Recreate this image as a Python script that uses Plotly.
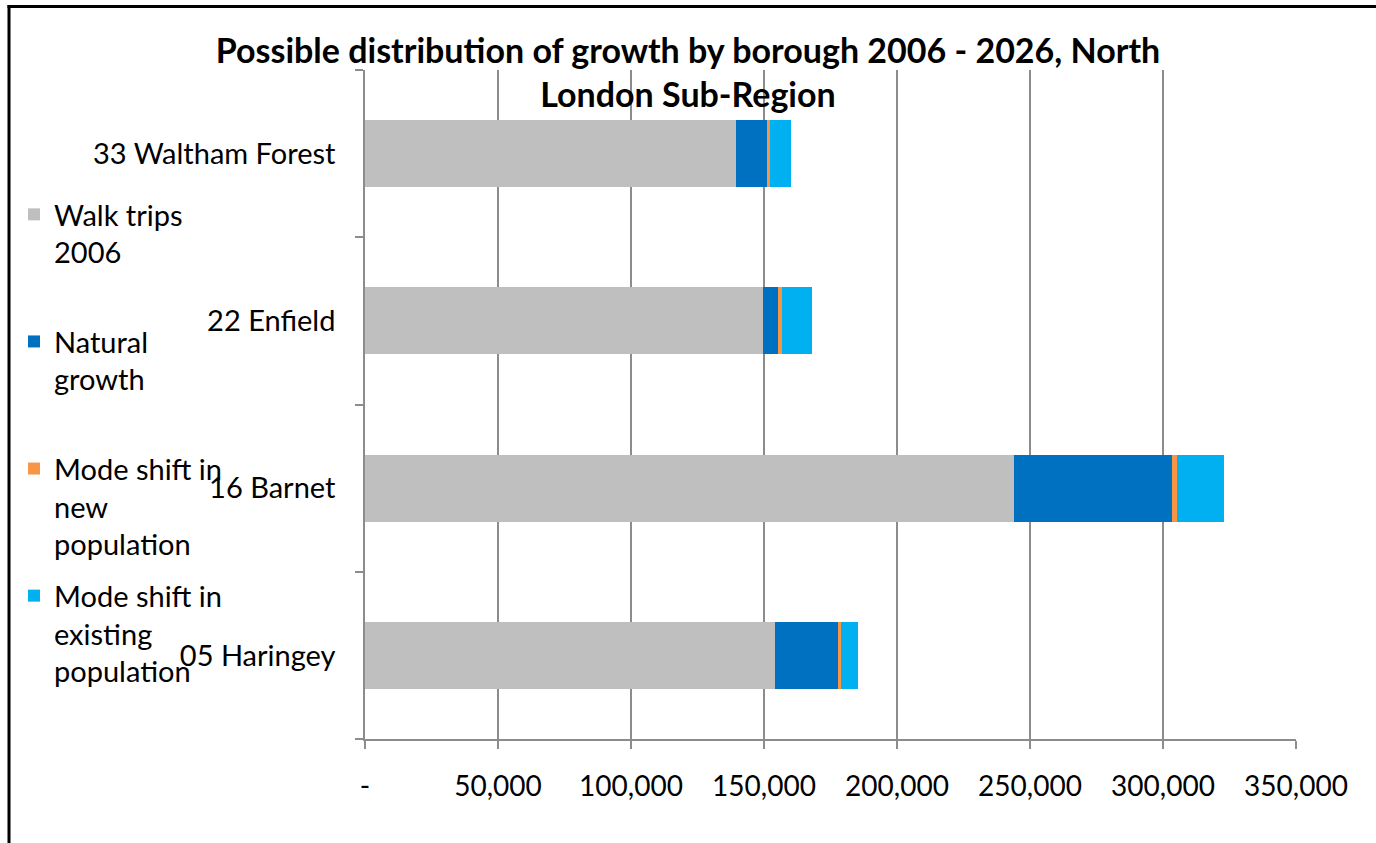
import plotly.graph_objects as go

boroughs = ["05 Haringey", "16 Barnet", "22 Enfield", "33 Waltham Forest"]
walk_2006 = [154100, 244000, 149500, 139400]
natural_growth = [23900, 59400, 5900, 11800]
mode_shift_new = [900, 1900, 1300, 900]
mode_shift_existing = [6300, 17700, 11500, 8200]

series_names = ["Walk trips<br>2006<br>\u00a0", "Natural<br>growth<br>\u00a0",
                "Mode shift in<br>new<br>population", "Mode shift in<br>existing<br>population"]
series_values = [walk_2006, natural_growth, mode_shift_new, mode_shift_existing]
series_colors = ["#BFBFBF", "#0070C0", "#F79646", "#00B0F0"]

x_tickvals = [0, 50000, 100000, 150000, 200000, 250000, 300000, 350000]
x_ticktext = ["-", "50,000", "100,000", "150,000", "200,000", "250,000", "300,000", "350,000"]

FONT = "Lato"
W, H = 1376, 843
ML, MR, MT, MB = 365, 80, 70, 104

fig = go.Figure()
for i, (name, vals, col) in enumerate(zip(series_names, series_values, series_colors)):
    fig.add_trace(go.Bar(
        y=boroughs, x=vals, name=name, orientation="h",
        marker=dict(color=col, line=dict(width=0)),
        legendgroup=f"g{i}",
    ))

pw = W - ML - MR
ph = H - MT - MB

def px_to_paper_x(px):
    return (px - ML) / pw

def px_to_paper_y(py):
    return 1 - (py - MT) / ph

fig.update_layout(
    width=W, height=H,
    margin=dict(l=ML, r=MR, t=MT, b=MB),
    barmode="stack", bargap=0.6,
    plot_bgcolor="white", paper_bgcolor="white",
    font=dict(family=FONT, size=29, color="black"),
    title=dict(
        text="<b>Possible distribution of growth by borough 2006 - 2026, North<br>London Sub-Region</b>",
        x=0.5, xref="container", xanchor="center",
        y=1 - 63 / H, yref="container", yanchor="top",
        font=dict(family=FONT, size=34, color="black"),
    ),
    legend=dict(
        x=px_to_paper_x(14), xanchor="left",
        y=px_to_paper_y(189), yanchor="top",
        valign="top", tracegroupgap=11,
        traceorder="grouped",
        font=dict(family=FONT, size=29, color="black"),
        bgcolor="rgba(0,0,0,0)",
    ),
    xaxis=dict(
        range=[0, 350000], tickvals=x_tickvals, ticktext=x_ticktext,
        showgrid=True, gridcolor="#8C8C8C", gridwidth=1.5,
        zeroline=False,
        showline=True, linecolor="#8C8C8C", linewidth=1.5,
        ticks="outside", ticklen=8, tickcolor="#8C8C8C", tickwidth=1.5,
        ticklabelstandoff=14,
        tickfont=dict(family=FONT, size=28, color="black"),
        fixedrange=True,
    ),
    yaxis=dict(
        categoryorder="array", categoryarray=boroughs,
        showgrid=False, zeroline=False,
        showline=True, linecolor="#8C8C8C", linewidth=1.5,
        ticks="outside", ticklen=8, tickcolor="#8C8C8C", tickwidth=1.5,
        tickson="boundaries", ticklabelstandoff=22,
        tickfont=dict(family=FONT, size=29, color="black"),
        fixedrange=True,
    ),
    showlegend=True,
)

# outer chart frame (top and left edges visible in the reference)
fig.add_shape(type="line", xref="paper", yref="paper",
              x0=px_to_paper_x(7.5), x1=px_to_paper_x(1380),
              y0=px_to_paper_y(6.5), y1=px_to_paper_y(6.5),
              line=dict(color="black", width=3))
fig.add_shape(type="line", xref="paper", yref="paper",
              x0=px_to_paper_x(9), x1=px_to_paper_x(9),
              y0=px_to_paper_y(5), y1=px_to_paper_y(860),
              line=dict(color="black", width=3))

fig.write_html("out.html", config={"displayModeBar": False},
               post_script="document.body.style.margin='0';")
